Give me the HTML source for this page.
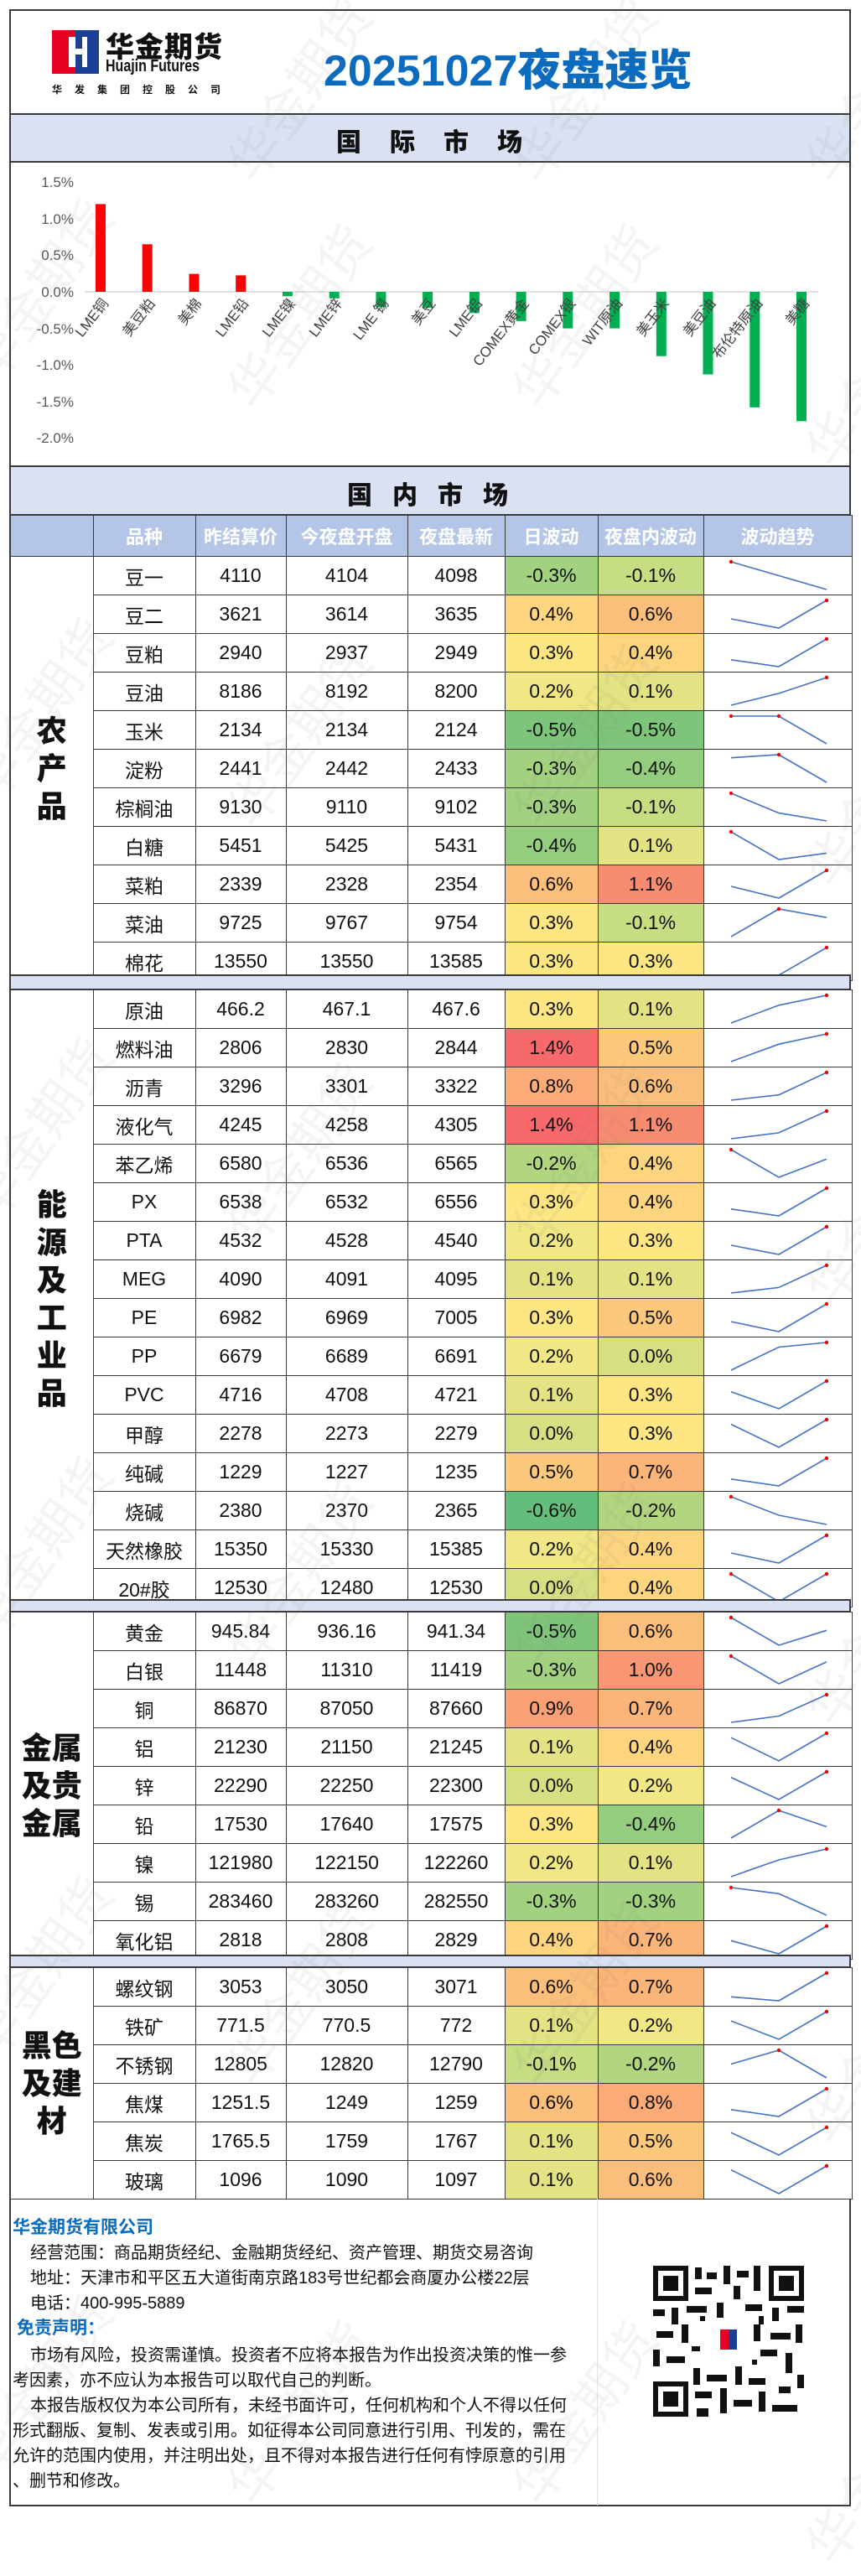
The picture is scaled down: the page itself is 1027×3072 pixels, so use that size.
<!DOCTYPE html>
<html><head><meta charset="utf-8">
<style>
*{margin:0;padding:0;box-sizing:border-box}
body{width:1027px;height:3000px;background:#fff;position:relative;overflow:hidden;font-family:"Liberation Sans","Noto Sans CJK SC",sans-serif}
.abs{position:absolute}
.frame{position:absolute;left:11px;top:11px;width:1004px;height:2978px;border:2px solid #3a3a3a}
.band{position:absolute;left:11px;width:1004px;background:#d9e1f2;border:2px solid #3a3a3a}
table{border-collapse:collapse;position:absolute;left:11px;width:1004px;table-layout:fixed}
td{border:1.5px solid #3a3a3a;text-align:center;padding:0;height:45.5px;font-size:23px;font-family:"Liberation Sans Narrow","Liberation Sans","Noto Sans CJK SC",sans-serif;color:#111;background:#fff}
td.c{font-family:"Liberation Sans","Noto Sans CJK SC",sans-serif;font-weight:900;font-size:36px;line-height:1.25;border-left:2px solid #3a3a3a}
td.s{padding:0}
td.s svg{display:block}
.hd td{background:#b4c6e7;color:#fff;font-weight:bold;font-family:"Liberation Sans","Noto Sans CJK SC",sans-serif;font-size:22px;height:49px}
polyline{fill:none;stroke:#4472c4;stroke-width:1.6}
circle{fill:#e00}
.wm{position:absolute;font-size:62px;color:rgba(110,110,110,0.08);transform:rotate(-55deg);font-family:"Noto Sans CJK SC",sans-serif;white-space:nowrap}
.ft{position:absolute;left:22px;font-size:20px;color:#111;font-family:"Liberation Sans","Noto Sans CJK SC",sans-serif;white-space:nowrap}
</style></head><body>

<div class="frame"></div>

<!-- header -->
<svg class="abs" style="left:62px;top:36px" width="56" height="52">
<rect x="0" y="0" width="28" height="52" fill="#e60021"/>
<rect x="28" y="0" width="28" height="52" fill="#1a3f95"/>
<rect x="20" y="8" width="8" height="36" fill="#fff"/>
<rect x="28" y="22" width="10" height="7" fill="#fff"/>
<rect x="36" y="8" width="6" height="36" fill="#fff"/>
</svg>
<div class="abs" style="left:126px;top:29px;font-size:34px;font-weight:900;color:#111;letter-spacing:1px">华金期货</div>
<div class="abs" style="left:126px;top:68px;font-size:20px;font-weight:bold;color:#111;transform:scaleX(0.8);transform-origin:left">Huajin Futures</div>
<div class="abs" style="left:62px;top:98px;font-size:12px;font-weight:bold;color:#111;letter-spacing:15px">华发集团控股公司</div>
<div class="abs" style="left:386px;top:42px;font-size:52px;font-weight:900;color:#0b6cbf;white-space:nowrap">20251027夜盘速览</div>

<div class="band" style="top:135px;height:59px"></div>
<div class="abs" style="left:401px;top:145px;font-size:30px;font-weight:900;color:#111;letter-spacing:34px">国际市场</div>

<!-- chart -->
<svg class="abs" style="left:0;top:0" width="1027" height="560">
<g font-size="17" fill="#595959" text-anchor="end" font-family="Liberation Sans Narrow, Liberation Sans, sans-serif">
<text x="88" y="223">1.5%</text><text x="88" y="267">1.0%</text><text x="88" y="310">0.5%</text><text x="88" y="354">0.0%</text>
<text x="88" y="398">-0.5%</text><text x="88" y="441">-1.0%</text><text x="88" y="485">-1.5%</text><text x="88" y="528">-2.0%</text>
</g>
<line x1="101" y1="348" x2="976" y2="348" stroke="#d9d9d9" stroke-width="1.5"/>
<g fill="#ff0000">
<rect x="114" y="243.4" width="12" height="104.6"/>
<rect x="169.7" y="291.3" width="12" height="56.7"/>
<rect x="225.5" y="326.6" width="12" height="21.4"/>
<rect x="281.2" y="328.4" width="12" height="19.6"/>
</g>
<g fill="#00b050">
<rect x="336.9" y="348" width="12" height="5.2"/>
<rect x="392.7" y="348" width="12" height="7.8"/>
<rect x="448.4" y="348" width="12" height="18.3"/>
<rect x="504.1" y="348" width="12" height="19.2"/>
<rect x="559.9" y="348" width="12" height="25.3"/>
<rect x="615.6" y="348" width="12" height="34.9"/>
<rect x="671.3" y="348" width="12" height="43.6"/>
<rect x="727.1" y="348" width="12" height="43.6"/>
<rect x="782.8" y="348" width="12" height="76.7"/>
<rect x="838.5" y="348" width="12" height="98.5"/>
<rect x="894.3" y="348" width="12" height="137.8"/>
<rect x="950" y="348" width="12" height="154.3"/>
</g>
<g font-size="17" fill="#404040" text-anchor="end" font-family="Liberation Sans, Noto Sans CJK SC, sans-serif">
<text transform="translate(130,362) rotate(-52)">LME铜</text>
<text transform="translate(185.7,362) rotate(-52)">美豆粕</text>
<text transform="translate(241.5,362) rotate(-52)">美棉</text>
<text transform="translate(297.2,362) rotate(-52)">LME铅</text>
<text transform="translate(352.9,362) rotate(-52)">LME镍</text>
<text transform="translate(408.7,362) rotate(-52)">LME锌</text>
<text transform="translate(464.4,362) rotate(-52)">LME 锡</text>
<text transform="translate(520.1,362) rotate(-52)">美豆</text>
<text transform="translate(575.9,362) rotate(-52)">LME铝</text>
<text transform="translate(631.6,362) rotate(-52)">COMEX黄金</text>
<text transform="translate(687.3,362) rotate(-52)">COMEX银</text>
<text transform="translate(743.1,362) rotate(-52)">WIT原油</text>
<text transform="translate(798.8,362) rotate(-52)">美玉米</text>
<text transform="translate(854.5,362) rotate(-52)">美豆油</text>
<text transform="translate(910.3,362) rotate(-52)">布伦特原油</text>
<text transform="translate(966,362) rotate(-52)">美糖</text>
</g>
</svg>

<!-- domestic -->
<div class="band" style="top:555px;height:60px"></div>
<div class="abs" style="left:414px;top:566px;font-size:30px;font-weight:900;color:#111;letter-spacing:24px">国内市场</div>

<table style="top:614px">
<colgroup><col style="width:99px"><col style="width:122px"><col style="width:108px"><col style="width:145px"><col style="width:116px"><col style="width:111px"><col style="width:126px"><col style="width:177px"></colgroup>
<tr class="hd"><td></td><td>品种</td><td>昨结算价</td><td>今夜盘开盘</td><td>夜盘最新</td><td>日波动</td><td>夜盘内波动</td><td>波动趋势</td></tr>
<tr><td class="c" rowspan="11">农<br>产<br>品</td><td>豆一</td><td>4110</td><td>4104</td><td>4098</td><td style="background:#a2d17f">-0.3%</td><td style="background:#c6dd82">-0.1%</td><td class="s"><svg width="177" height="45"><polyline points="32,6 89,22.5 146,39"/><circle cx="32" cy="6" r="2.2"/></svg></td></tr>
<tr><td>豆二</td><td>3621</td><td>3614</td><td>3635</td><td style="background:#fdd57f">0.4%</td><td style="background:#fcbf7b">0.6%</td><td class="s"><svg width="177" height="45"><polyline points="32,28 89,39 146,6"/><circle cx="146" cy="6" r="2.2"/></svg></td></tr>
<tr><td>豆粕</td><td>2940</td><td>2937</td><td>2949</td><td style="background:#fee783">0.3%</td><td style="background:#fdd57f">0.4%</td><td class="s"><svg width="177" height="45"><polyline points="32,30.8 89,39 146,6"/><circle cx="146" cy="6" r="2.2"/></svg></td></tr>
<tr><td>豆油</td><td>8186</td><td>8192</td><td>8200</td><td style="background:#f1e784">0.2%</td><td style="background:#e3e383">0.1%</td><td class="s"><svg width="177" height="45"><polyline points="32,39 89,24.9 146,6"/><circle cx="146" cy="6" r="2.2"/></svg></td></tr>
<tr><td>玉米</td><td>2134</td><td>2134</td><td>2124</td><td style="background:#7ec57b">-0.5%</td><td style="background:#7ec57b">-0.5%</td><td class="s"><svg width="177" height="45"><polyline points="32,6 89,6 146,39"/><circle cx="32" cy="6" r="2.2"/><circle cx="89" cy="6" r="2.2"/></svg></td></tr>
<tr><td>淀粉</td><td>2441</td><td>2442</td><td>2433</td><td style="background:#a2d17f">-0.3%</td><td style="background:#94cd7e">-0.4%</td><td class="s"><svg width="177" height="45"><polyline points="32,9.7 89,6 146,39"/><circle cx="89" cy="6" r="2.2"/></svg></td></tr>
<tr><td>棕榈油</td><td>9130</td><td>9110</td><td>9102</td><td style="background:#a2d17f">-0.3%</td><td style="background:#c6dd82">-0.1%</td><td class="s"><svg width="177" height="45"><polyline points="32,6 89,29.6 146,39"/><circle cx="32" cy="6" r="2.2"/></svg></td></tr>
<tr><td>白糖</td><td>5451</td><td>5425</td><td>5431</td><td style="background:#94cd7e">-0.4%</td><td style="background:#e3e383">0.1%</td><td class="s"><svg width="177" height="45"><polyline points="32,6 89,39 146,31.4"/><circle cx="32" cy="6" r="2.2"/></svg></td></tr>
<tr><td>菜粕</td><td>2339</td><td>2328</td><td>2354</td><td style="background:#fcbf7b">0.6%</td><td style="background:#f88c71">1.1%</td><td class="s"><svg width="177" height="45"><polyline points="32,25 89,39 146,6"/><circle cx="146" cy="6" r="2.2"/></svg></td></tr>
<tr><td>菜油</td><td>9725</td><td>9767</td><td>9754</td><td style="background:#fee783">0.3%</td><td style="background:#c6dd82">-0.1%</td><td class="s"><svg width="177" height="45"><polyline points="32,39 89,6 146,16.2"/><circle cx="89" cy="6" r="2.2"/></svg></td></tr>
<tr><td>棉花</td><td>13550</td><td>13550</td><td>13585</td><td style="background:#fee783">0.3%</td><td style="background:#fee783">0.3%</td><td class="s"><svg width="177" height="45"><polyline points="32,39 89,39 146,6"/><circle cx="146" cy="6" r="2.2"/></svg></td></tr>
</table>

<div class="band" style="top:1162px;height:19px"></div>

<table style="top:1180px">
<colgroup><col style="width:99px"><col style="width:122px"><col style="width:108px"><col style="width:145px"><col style="width:116px"><col style="width:111px"><col style="width:126px"><col style="width:177px"></colgroup>
<tr><td class="c" rowspan="16">能<br>源<br>及<br>工<br>业<br>品</td><td>原油</td><td>466.2</td><td>467.1</td><td>467.6</td><td style="background:#fee783">0.3%</td><td style="background:#e3e383">0.1%</td><td class="s"><svg width="177" height="45"><polyline points="32,39 89,17.8 146,6"/><circle cx="146" cy="6" r="2.2"/></svg></td></tr>
<tr><td>燃料油</td><td>2806</td><td>2830</td><td>2844</td><td style="background:#f8696b">1.4%</td><td style="background:#fcc97c">0.5%</td><td class="s"><svg width="177" height="45"><polyline points="32,39 89,18.2 146,6"/><circle cx="146" cy="6" r="2.2"/></svg></td></tr>
<tr><td>沥青</td><td>3296</td><td>3301</td><td>3322</td><td style="background:#fbab77">0.8%</td><td style="background:#fcbf7b">0.6%</td><td class="s"><svg width="177" height="45"><polyline points="32,39 89,32.7 146,6"/><circle cx="146" cy="6" r="2.2"/></svg></td></tr>
<tr><td>液化气</td><td>4245</td><td>4258</td><td>4305</td><td style="background:#f8696b">1.4%</td><td style="background:#f88c71">1.1%</td><td class="s"><svg width="177" height="45"><polyline points="32,39 89,31.9 146,6"/><circle cx="146" cy="6" r="2.2"/></svg></td></tr>
<tr><td>苯乙烯</td><td>6580</td><td>6536</td><td>6565</td><td style="background:#b2d580">-0.2%</td><td style="background:#fdd57f">0.4%</td><td class="s"><svg width="177" height="45"><polyline points="32,6 89,39 146,17.3"/><circle cx="32" cy="6" r="2.2"/></svg></td></tr>
<tr><td>PX</td><td>6538</td><td>6532</td><td>6556</td><td style="background:#fee783">0.3%</td><td style="background:#fdd57f">0.4%</td><td class="s"><svg width="177" height="45"><polyline points="32,30.8 89,39 146,6"/><circle cx="146" cy="6" r="2.2"/></svg></td></tr>
<tr><td>PTA</td><td>4532</td><td>4528</td><td>4540</td><td style="background:#f1e784">0.2%</td><td style="background:#fee783">0.3%</td><td class="s"><svg width="177" height="45"><polyline points="32,28 89,39 146,6"/><circle cx="146" cy="6" r="2.2"/></svg></td></tr>
<tr><td>MEG</td><td>4090</td><td>4091</td><td>4095</td><td style="background:#e3e383">0.1%</td><td style="background:#e3e383">0.1%</td><td class="s"><svg width="177" height="45"><polyline points="32,39 89,32.4 146,6"/><circle cx="146" cy="6" r="2.2"/></svg></td></tr>
<tr><td>PE</td><td>6982</td><td>6969</td><td>7005</td><td style="background:#fee783">0.3%</td><td style="background:#fcc97c">0.5%</td><td class="s"><svg width="177" height="45"><polyline points="32,27.1 89,39 146,6"/><circle cx="146" cy="6" r="2.2"/></svg></td></tr>
<tr><td>PP</td><td>6679</td><td>6689</td><td>6691</td><td style="background:#f1e784">0.2%</td><td style="background:#d6e083">0.0%</td><td class="s"><svg width="177" height="45"><polyline points="32,39 89,11.5 146,6"/><circle cx="146" cy="6" r="2.2"/></svg></td></tr>
<tr><td>PVC</td><td>4716</td><td>4708</td><td>4721</td><td style="background:#e3e383">0.1%</td><td style="background:#fee783">0.3%</td><td class="s"><svg width="177" height="45"><polyline points="32,18.7 89,39 146,6"/><circle cx="146" cy="6" r="2.2"/></svg></td></tr>
<tr><td>甲醇</td><td>2278</td><td>2273</td><td>2279</td><td style="background:#d6e083">0.0%</td><td style="background:#fee783">0.3%</td><td class="s"><svg width="177" height="45"><polyline points="32,11.5 89,39 146,6"/><circle cx="146" cy="6" r="2.2"/></svg></td></tr>
<tr><td>纯碱</td><td>1229</td><td>1227</td><td>1235</td><td style="background:#fcc97c">0.5%</td><td style="background:#fbb579">0.7%</td><td class="s"><svg width="177" height="45"><polyline points="32,30.8 89,39 146,6"/><circle cx="146" cy="6" r="2.2"/></svg></td></tr>
<tr><td>烧碱</td><td>2380</td><td>2370</td><td>2365</td><td style="background:#63be7b">-0.6%</td><td style="background:#b2d580">-0.2%</td><td class="s"><svg width="177" height="45"><polyline points="32,6 89,28 146,39"/><circle cx="32" cy="6" r="2.2"/></svg></td></tr>
<tr><td>天然橡胶</td><td>15350</td><td>15330</td><td>15385</td><td style="background:#f1e784">0.2%</td><td style="background:#fdd57f">0.4%</td><td class="s"><svg width="177" height="45"><polyline points="32,27 89,39 146,6"/><circle cx="146" cy="6" r="2.2"/></svg></td></tr>
<tr><td>20#胶</td><td>12530</td><td>12480</td><td>12530</td><td style="background:#d6e083">0.0%</td><td style="background:#fdd57f">0.4%</td><td class="s"><svg width="177" height="45"><polyline points="32,6 89,39 146,6"/><circle cx="32" cy="6" r="2.2"/><circle cx="146" cy="6" r="2.2"/></svg></td></tr>
</table>

<div class="band" style="top:1907px;height:16px"></div>

<table style="top:1922px">
<colgroup><col style="width:99px"><col style="width:122px"><col style="width:108px"><col style="width:145px"><col style="width:116px"><col style="width:111px"><col style="width:126px"><col style="width:177px"></colgroup>
<tr><td class="c" rowspan="9" style="font-size:36px">金属<br>及贵<br>金属</td><td>黄金</td><td>945.84</td><td>936.16</td><td>941.34</td><td style="background:#7ec57b">-0.5%</td><td style="background:#fcbf7b">0.6%</td><td class="s"><svg width="177" height="45"><polyline points="32,6 89,39 146,21.3"/><circle cx="32" cy="6" r="2.2"/></svg></td></tr>
<tr><td>白银</td><td>11448</td><td>11310</td><td>11419</td><td style="background:#a2d17f">-0.3%</td><td style="background:#f99673">1.0%</td><td class="s"><svg width="177" height="45"><polyline points="32,6 89,39 146,12.9"/><circle cx="32" cy="6" r="2.2"/></svg></td></tr>
<tr><td>铜</td><td>86870</td><td>87050</td><td>87660</td><td style="background:#faa075">0.9%</td><td style="background:#fbb579">0.7%</td><td class="s"><svg width="177" height="45"><polyline points="32,39 89,31.5 146,6"/><circle cx="146" cy="6" r="2.2"/></svg></td></tr>
<tr><td>铝</td><td>21230</td><td>21150</td><td>21245</td><td style="background:#e3e383">0.1%</td><td style="background:#fdd57f">0.4%</td><td class="s"><svg width="177" height="45"><polyline points="32,11.2 89,39 146,6"/><circle cx="146" cy="6" r="2.2"/></svg></td></tr>
<tr><td>锌</td><td>22290</td><td>22250</td><td>22300</td><td style="background:#d6e083">0.0%</td><td style="background:#f1e784">0.2%</td><td class="s"><svg width="177" height="45"><polyline points="32,12.6 89,39 146,6"/><circle cx="146" cy="6" r="2.2"/></svg></td></tr>
<tr><td>铅</td><td>17530</td><td>17640</td><td>17575</td><td style="background:#fee783">0.3%</td><td style="background:#94cd7e">-0.4%</td><td class="s"><svg width="177" height="45"><polyline points="32,39 89,6 146,25.5"/><circle cx="89" cy="6" r="2.2"/></svg></td></tr>
<tr><td>镍</td><td>121980</td><td>122150</td><td>122260</td><td style="background:#f1e784">0.2%</td><td style="background:#e3e383">0.1%</td><td class="s"><svg width="177" height="45"><polyline points="32,39 89,19 146,6"/><circle cx="146" cy="6" r="2.2"/></svg></td></tr>
<tr><td>锡</td><td>283460</td><td>283260</td><td>282550</td><td style="background:#a2d17f">-0.3%</td><td style="background:#a2d17f">-0.3%</td><td class="s"><svg width="177" height="45"><polyline points="32,6 89,13.3 146,39"/><circle cx="32" cy="6" r="2.2"/></svg></td></tr>
<tr><td>氧化铝</td><td>2818</td><td>2808</td><td>2829</td><td style="background:#fdd57f">0.4%</td><td style="background:#fbb579">0.7%</td><td class="s"><svg width="177" height="45"><polyline points="32,23.3 89,39 146,6"/><circle cx="146" cy="6" r="2.2"/></svg></td></tr>
</table>

<div class="band" style="top:2331px;height:16px"></div>

<table style="top:2346px">
<colgroup><col style="width:99px"><col style="width:122px"><col style="width:108px"><col style="width:145px"><col style="width:116px"><col style="width:111px"><col style="width:126px"><col style="width:177px"></colgroup>
<tr><td class="c" rowspan="6" style="font-size:36px">黑色<br>及建<br>材</td><td>螺纹钢</td><td>3053</td><td>3050</td><td>3071</td><td style="background:#fcbf7b">0.6%</td><td style="background:#fbb579">0.7%</td><td class="s"><svg width="177" height="45"><polyline points="32,34.3 89,39 146,6"/><circle cx="146" cy="6" r="2.2"/></svg></td></tr>
<tr><td>铁矿</td><td>771.5</td><td>770.5</td><td>772</td><td style="background:#e3e383">0.1%</td><td style="background:#f1e784">0.2%</td><td class="s"><svg width="177" height="45"><polyline points="32,17 89,39 146,6"/><circle cx="146" cy="6" r="2.2"/></svg></td></tr>
<tr><td>不锈钢</td><td>12805</td><td>12820</td><td>12790</td><td style="background:#c6dd82">-0.1%</td><td style="background:#b2d580">-0.2%</td><td class="s"><svg width="177" height="45"><polyline points="32,22.5 89,6 146,39"/><circle cx="89" cy="6" r="2.2"/></svg></td></tr>
<tr><td>焦煤</td><td>1251.5</td><td>1249</td><td>1259</td><td style="background:#fcbf7b">0.6%</td><td style="background:#fbab77">0.8%</td><td class="s"><svg width="177" height="45"><polyline points="32,30.8 89,39 146,6"/><circle cx="146" cy="6" r="2.2"/></svg></td></tr>
<tr><td>焦炭</td><td>1765.5</td><td>1759</td><td>1767</td><td style="background:#e3e383">0.1%</td><td style="background:#fcc97c">0.5%</td><td class="s"><svg width="177" height="45"><polyline points="32,12.2 89,39 146,6"/><circle cx="146" cy="6" r="2.2"/></svg></td></tr>
<tr><td>玻璃</td><td>1096</td><td>1090</td><td>1097</td><td style="background:#e3e383">0.1%</td><td style="background:#fcbf7b">0.6%</td><td class="s"><svg width="177" height="45"><polyline points="32,10.7 89,39 146,6"/><circle cx="146" cy="6" r="2.2"/></svg></td></tr>
</table>

<!-- footer -->
<div class="abs" style="left:712px;top:2620px;width:1px;height:368px;background:#e6e6e6"></div>
<div class="ft" style="left:15px;top:2640px;font-size:21px;font-weight:bold;color:#0b6cbf">华金期货有限公司</div>
<div class="ft" style="left:36px;top:2670px">经营范围：商品期货经纪、金融期货经纪、资产管理、期货交易咨询</div>
<div class="ft" style="left:36px;top:2700px">地址：天津市和平区五大道街南京路183号世纪都会商厦办公楼22层</div>
<div class="ft" style="left:36px;top:2730px">电话：400-995-5889</div>
<div class="ft" style="left:20px;top:2760px;font-size:21px;font-weight:bold;color:#0b6cbf">免责声明：</div>
<div class="ft" style="left:36px;top:2792px">市场有风险，投资需谨慎。投资者不应将本报告为作出投资决策的惟一参</div>
<div class="ft" style="left:15px;top:2822px">考因素，亦不应认为本报告可以取代自己的判断。</div>
<div class="ft" style="left:36px;top:2852px">本报告版权仅为本公司所有，未经书面许可，任何机构和个人不得以任何</div>
<div class="ft" style="left:15px;top:2882px">形式翻版、复制、发表或引用。如征得本公司同意进行引用、刊发的，需在</div>
<div class="ft" style="left:15px;top:2912px">允许的范围内使用，并注明出处，且不得对本报告进行任何有悖原意的引用</div>
<div class="ft" style="left:15px;top:2942px">、删节和修改。</div>

<svg class="abs" style="left:779px;top:2702px" width="180" height="180">
<rect width="180" height="180" fill="#fff"/>
<g fill="#111">
<rect x="0" y="0" width="42" height="42"/><rect x="138" y="0" width="42" height="42"/><rect x="0" y="138" width="42" height="42"/>
</g>
<g fill="#fff"><rect x="6" y="6" width="30" height="30"/><rect x="144" y="6" width="30" height="30"/><rect x="6" y="144" width="30" height="30"/></g>
<g fill="#111"><rect x="12" y="12" width="18" height="18"/><rect x="150" y="12" width="18" height="18"/><rect x="12" y="150" width="18" height="18"/>
<rect x="50" y="2" width="8" height="14"/><rect x="64" y="8" width="12" height="8"/><rect x="84" y="0" width="8" height="22"/><rect x="100" y="6" width="14" height="8"/><rect x="120" y="0" width="8" height="30"/>
<rect x="50" y="26" width="20" height="8"/><rect x="96" y="24" width="8" height="16"/><rect x="0" y="52" width="14" height="8"/><rect x="22" y="50" width="8" height="20"/><rect x="40" y="48" width="24" height="8"/>
<rect x="76" y="44" width="8" height="18"/><rect x="110" y="46" width="20" height="8"/><rect x="142" y="50" width="8" height="16"/><rect x="160" y="48" width="20" height="8"/>
<rect x="4" y="78" width="20" height="8"/><rect x="34" y="70" width="8" height="22"/><rect x="120" y="70" width="8" height="20"/><rect x="140" y="80" width="24" height="8"/><rect x="170" y="70" width="8" height="22"/>
<rect x="0" y="100" width="8" height="20"/><rect x="16" y="108" width="22" height="8"/><rect x="128" y="100" width="20" height="8"/><rect x="158" y="104" width="8" height="24"/>
<rect x="48" y="122" width="8" height="20"/><rect x="64" y="130" width="24" height="8"/><rect x="98" y="120" width="8" height="22"/><rect x="114" y="134" width="20" height="8"/><rect x="172" y="130" width="8" height="16"/>
<rect x="50" y="150" width="20" height="8"/><rect x="80" y="146" width="8" height="30"/><rect x="96" y="160" width="22" height="8"/><rect x="126" y="150" width="8" height="24"/><rect x="142" y="166" width="30" height="8"/>
<rect x="52" y="170" width="14" height="10"/><rect x="150" y="144" width="14" height="8"/>
<rect x="56" y="60" width="6" height="6"/><rect x="118" y="112" width="6" height="6"/><rect x="46" y="96" width="10" height="6"/><rect x="126" y="60" width="6" height="10"/>
</g>
<rect x="64" y="66" width="52" height="52" fill="#fff"/>
<rect x="80" y="76" width="10" height="24" fill="#e60021"/><rect x="90" y="76" width="10" height="24" fill="#1a3f95"/>
</svg>

<!-- watermarks -->
<div class="wm" style="left:230px;top:60px">华金期货</div>
<div class="wm" style="left:570px;top:60px">华金期货</div>
<div class="wm" style="left:920px;top:60px">华金期货</div>
<div class="wm" style="left:-80px;top:300px">华金期货</div>
<div class="wm" style="left:230px;top:330px">华金期货</div>
<div class="wm" style="left:570px;top:330px">华金期货</div>
<div class="wm" style="left:920px;top:400px">华金期货</div>
<div class="wm" style="left:-80px;top:800px">华金期货</div>
<div class="wm" style="left:230px;top:830px">华金期货</div>
<div class="wm" style="left:570px;top:830px">华金期货</div>
<div class="wm" style="left:920px;top:900px">华金期货</div>
<div class="wm" style="left:-80px;top:1300px">华金期货</div>
<div class="wm" style="left:230px;top:1330px">华金期货</div>
<div class="wm" style="left:570px;top:1330px">华金期货</div>
<div class="wm" style="left:920px;top:1400px">华金期货</div>
<div class="wm" style="left:-80px;top:1800px">华金期货</div>
<div class="wm" style="left:230px;top:1830px">华金期货</div>
<div class="wm" style="left:570px;top:1830px">华金期货</div>
<div class="wm" style="left:920px;top:1900px">华金期货</div>
<div class="wm" style="left:-80px;top:2300px">华金期货</div>
<div class="wm" style="left:230px;top:2330px">华金期货</div>
<div class="wm" style="left:570px;top:2330px">华金期货</div>
<div class="wm" style="left:920px;top:2400px">华金期货</div>
<div class="wm" style="left:-80px;top:2800px">华金期货</div>
<div class="wm" style="left:230px;top:2830px">华金期货</div>
<div class="wm" style="left:570px;top:2830px">华金期货</div>
<div class="wm" style="left:920px;top:2900px">华金期货</div>
</body></html>
